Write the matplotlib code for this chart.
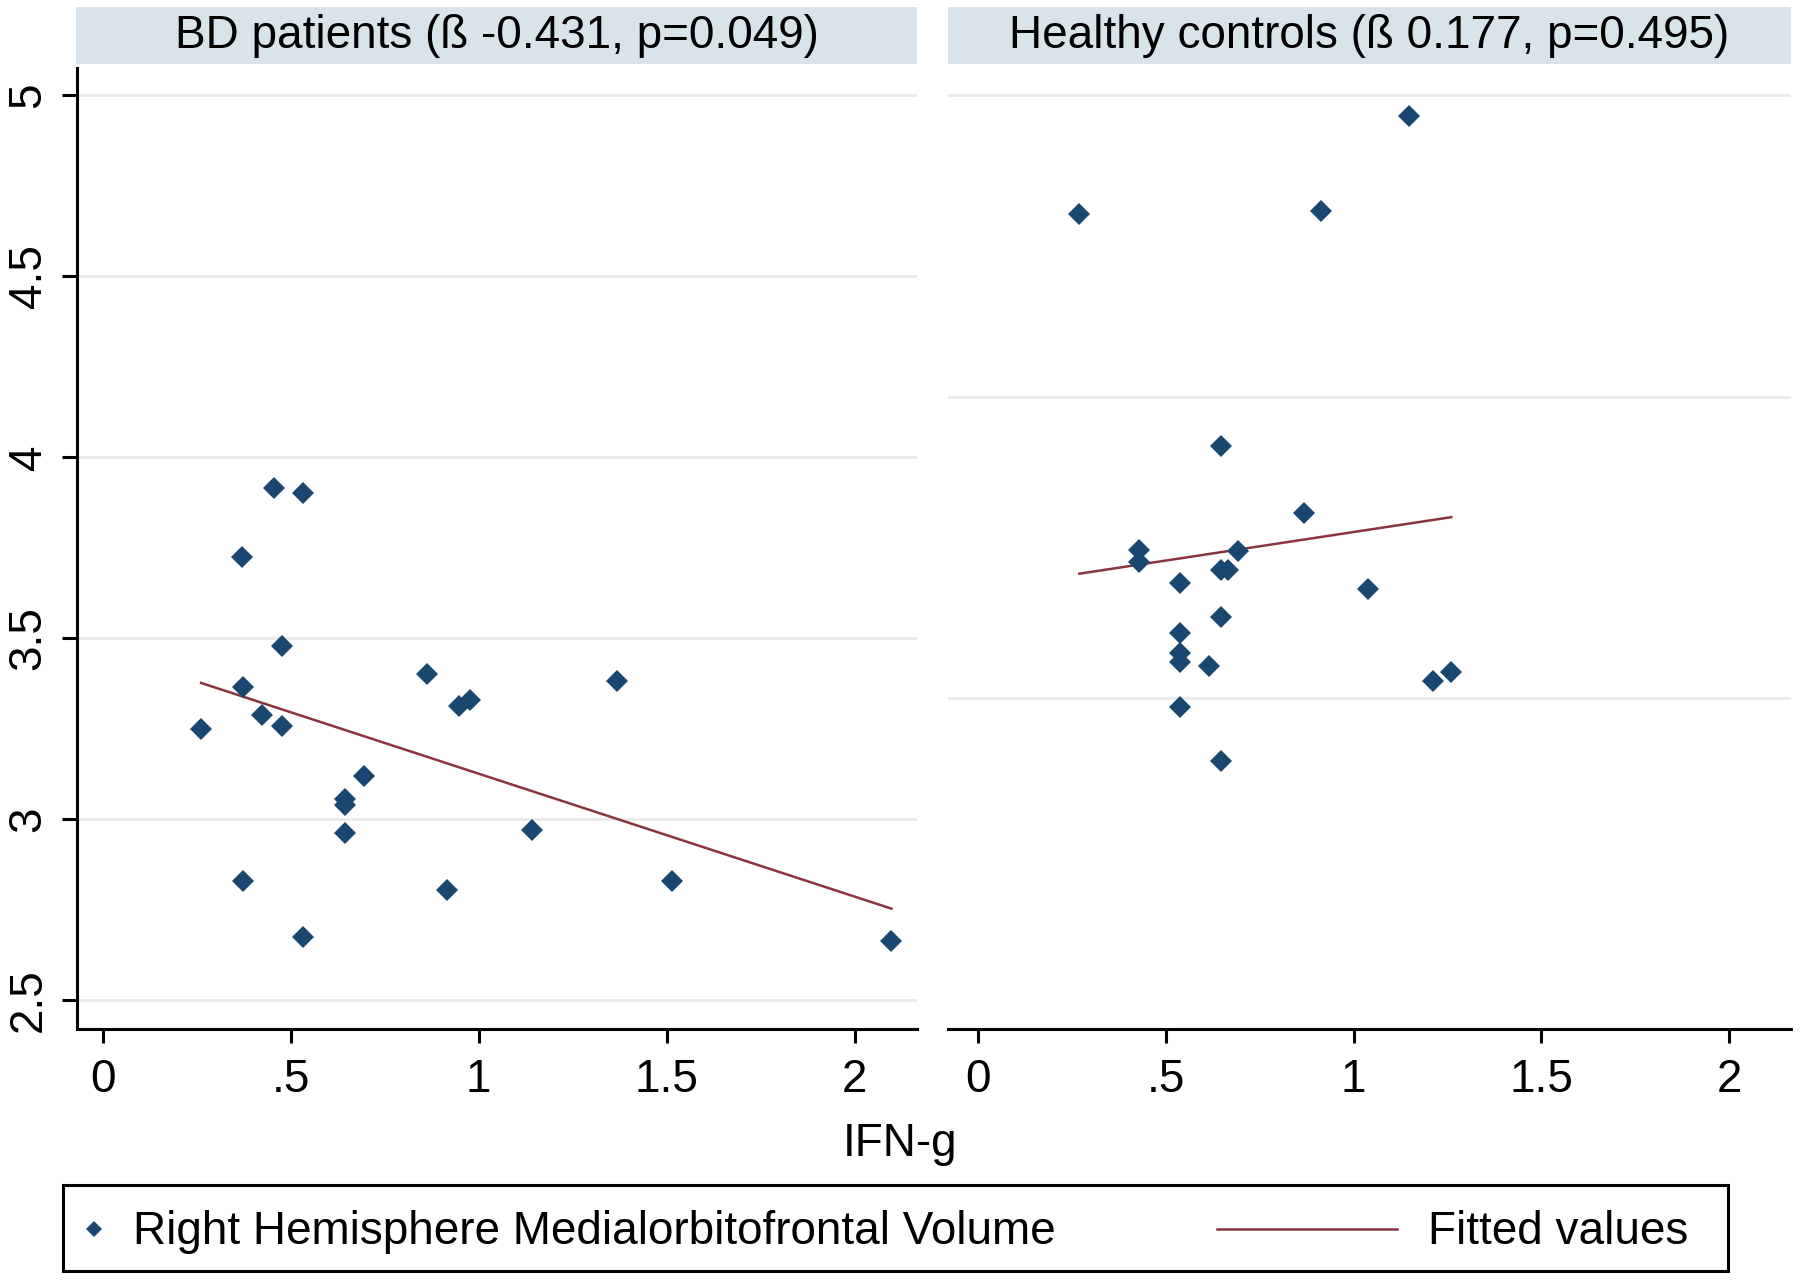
import numpy as np
import matplotlib.pyplot as plt
from matplotlib.patches import Rectangle
from matplotlib.lines import Line2D

# -------------------------
# Data
# -------------------------

bd_ifng = [0.457, 0.532, 0.372, 0.476, 0.863, 1.369, 0.373, 0.949, 0.976, 0.425, 0.476,
           0.262, 0.694, 0.645, 0.645, 0.645, 1.141, 0.373, 0.915, 1.514, 0.532, 2.098]
bd_volume = [3.916, 3.900, 3.725, 3.477, 3.400, 3.382, 3.366, 3.311, 3.329, 3.287, 3.258,
             3.250, 3.120, 3.055, 3.040, 2.962, 2.970, 2.830, 2.804, 2.830, 2.673, 2.664]

hc_ifng = [1.147, 0.269, 0.913, 0.647, 0.868, 0.428, 0.428, 0.691, 0.647, 0.665, 0.538,
           1.038, 0.647, 0.538, 0.538, 0.538, 0.614, 1.210, 1.260, 0.538, 0.647]
hc_volume = [4.931, 4.606, 4.617, 3.837, 3.616, 3.491, 3.453, 3.489, 3.425, 3.425, 3.384,
             3.362, 3.269, 3.216, 3.152, 3.121, 3.108, 3.057, 3.089, 2.973, 2.794]

panel_titles = ["BD patients (\u00df -0.431, p=0.049)",
                "Healthy controls (\u00df 0.177, p=0.495)"]
x_ticks = [0, 0.5, 1, 1.5, 2]
x_ticklabels = ["0", ".5", "1", "1.5", "2"]
y_ticks = [2.5, 3, 3.5, 4, 4.5, 5]
y_ticklabels = ["2.5", "3", "3.5", "4", "4.5", "5"]
y_ticks_hc = [3, 4, 5]

legend_labels = ["Right Hemisphere Medialorbitofrontal Volume", "Fitted values"]
x_title = "IFN-g"

# -------------------------
# Style
# -------------------------

plt.rcParams["font.family"] = ["Liberation Sans", "DejaVu Sans"]
FS = 33
NAVY = "#1a476f"
MAROON = "#8c3340"
STRIP = "#d9e3ea"
GRID = "#e9e9e9"

W, H = 1800, 1280
fig = plt.figure(figsize=(18, 12.8), dpi=100)


def fx(px):
    return px / W


def fy(py):
    return 1 - py / H


def panel(left, right, x, y, xlim, ylim, yticks, show_y):
    ax = fig.add_axes([fx(left), fy(1029), fx(right - left), fy(68) - fy(1029)])
    ax.set_xlim(*xlim)
    ax.set_ylim(*ylim)
    ax.set_yticks(yticks)
    ax.grid(axis="y", color=GRID, linewidth=1.9)
    ax.set_axisbelow(True)
    for s in ["top", "right"]:
        ax.spines[s].set_visible(False)
    ax.spines["bottom"].set_linewidth(2.2)
    ax.spines["left"].set_linewidth(2.2)
    ax.set_xticks(x_ticks)
    ax.set_xticklabels(x_ticklabels, fontsize=FS)
    ax.tick_params(axis="x", length=10, width=2.2, pad=11)
    if show_y:
        ax.set_yticklabels(y_ticklabels, fontsize=FS, rotation=90, va="center")
        ax.tick_params(axis="y", length=11, width=2.2, pad=8)
    else:
        ax.spines["left"].set_visible(False)
        ax.tick_params(axis="y", length=0, labelleft=False)

    ax.plot(x, y, linestyle="none", marker="D", markersize=11.5,
            color=NAVY, markeredgewidth=0, zorder=3)

    # fitted values (OLS)
    b, a = np.polyfit(x, y, 1)
    xs = np.array([min(x), max(x)])
    ax.plot(xs, a + b * xs, color=MAROON, linewidth=1.8, zorder=2)
    return ax


ax1 = panel(77, 917, bd_ifng, bd_volume, (-0.068, 2.166), (2.420, 5.075), y_ticks, True)
ax2 = panel(948, 1791, hc_ifng, hc_volume, (-0.081, 2.165), (1.904, 5.090), y_ticks_hc, False)

# strips with panel titles
for (l, r), title in zip([(76, 917), (948, 1791)], panel_titles):
    fig.patches.append(Rectangle((fx(l), fy(64)), fx(r - l), fy(7) - fy(64),
                                 transform=fig.transFigure, facecolor=STRIP,
                                 edgecolor="none"))
    fig.text(fx((l + r) / 2), fy(36), title, fontsize=FS, ha="center", va="center")

# x axis title
fig.text(0.5, fy(1144), x_title, fontsize=FS, ha="center", va="center")

# -------------------------
# Legend
# -------------------------
fig.patches.append(Rectangle((fx(63), fy(1271)), fx(1728 - 63), fy(1185) - fy(1271),
                             transform=fig.transFigure, facecolor="white",
                             edgecolor="black", linewidth=2.2))
fig.lines.append(Line2D([fx(94)], [fy(1229)], transform=fig.transFigure,
                        linestyle="none", marker="D", markersize=8.5,
                        color=NAVY, markeredgewidth=0))
fig.text(fx(133), fy(1232), legend_labels[0], fontsize=FS, ha="left", va="center")
fig.lines.append(Line2D([fx(1217), fx(1397)], [fy(1229), fy(1229)],
                        transform=fig.transFigure, color=MAROON, linewidth=1.8))
fig.text(fx(1428), fy(1232), legend_labels[1], fontsize=FS, ha="left", va="center")

fig.savefig("out.png", dpi=100, facecolor="white")
